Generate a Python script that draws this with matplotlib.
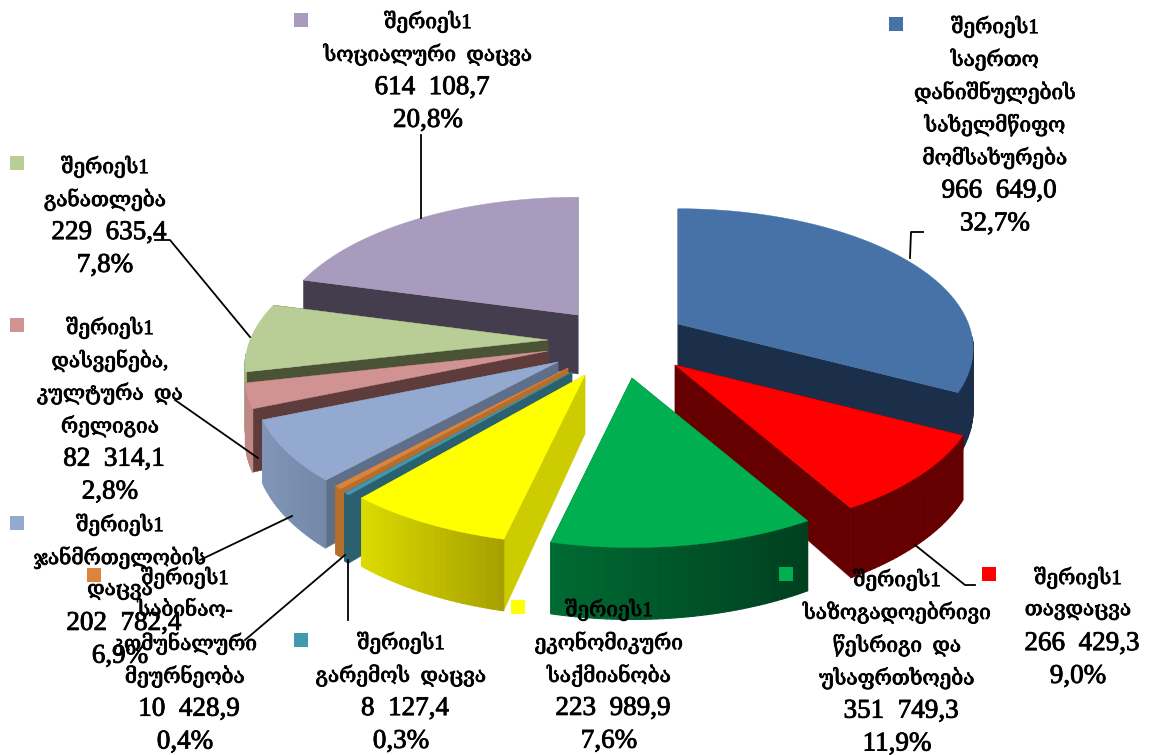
import numpy as np
import matplotlib
matplotlib.use("Agg")
from matplotlib import pyplot as plt
from matplotlib import patheffects as pe_
from matplotlib.collections import PolyCollection
from matplotlib.colors import to_rgb

plt.rcParams['font.family'] = ['Liberation Serif', 'DejaVu Serif', 'DejaVu Sans']

series_name = "შერიეს1"
categories = [
    ["საერთო", "დანიშნულების", "სახელმწიფო", "მომსახურება"],
    ["თავდაცვა"],
    ["საზოგადოებრივი", "წესრიგი  და", "უსაფრთხოება"],
    ["ეკონომიკური", "საქმიანობა"],
    ["გარემოს  დაცვა"],
    ["საბინაო-", "კომუნალური", "მეურნეობა"],
    ["ჯანმრთელობის", "დაცვა"],
    ["დასვენება,", "კულტურა  და", "რელიგია"],
    ["განათლება"],
    ["სოციალური  დაცვა"],
]
values = [966649.0, 266429.3, 351749.3, 223989.9, 8127.4, 10428.9, 202782.4, 82314.1, 229635.4, 614108.7]
percents = ["32,7%", "9,0%", "11,9%", "7,6%", "0,3%", "0,4%", "6,9%", "2,8%", "7,8%", "20,8%"]

# colours: top face, cut face, outer wall left and right end
top_colors = ['#4672a8', '#ff0000', '#00b050', '#ffff00', '#4198af', '#db843d', '#93a9cf', '#d19392', '#b9cd96', '#a99bbd']
cut_colors = ['#1b2e4a', '#660000', '#00602d', '#cccc00', '#2a6070', '#b56e2c', '#5f6f8a', '#5e3c3c', '#4b5337', '#433d4d']
wall_a = ['#1b2e4a', '#660000', '#006b33', '#dcdc00', '#2a6070', '#b56e2c', '#8196b8', '#c08886', '#a0b282', '#433d4d']
wall_b = ['#1b2e4a', '#660000', '#00401f', '#a8a000', '#2a6070', '#b56e2c', '#7488a8', '#c08886', '#a0b282', '#433d4d']

# where each slice's point sits (exploded by hand), drawn back to front
tip_x = [678, 675, 632, 585, 572, 568, 558, 548, 548, 578]
tip_y = [324, 365, 378, 375, 372, 368, 362, 351, 340, 315]
radius = [0.975, 1, 1, 1, 1, 1, 1, 1, 1, 1]
draw_order = [9, 8, 7, 0, 6, 5, 4, 1, 3, 2]

# label layout
label_x = [995, 1078, 897, 609, 401, 185, 120, 110, 105, 428]
label_y = [27, 578, 580, 610, 643, 578, 525, 328, 167, 22]
marker_x = [896, 989, 786, 518, 301, 94, 17, 17, 17, 301]
marker_y = [24, 574, 574, 607, 640, 575, 523, 325, 163, 20]
leaders = [
    ([910, 911, 923], [258, 232, 232]),
    ([915, 965, 975], [545, 585, 585]),
    ([], []), ([], []),
    ([348, 348], [560, 620]),
    ([345, 245], [555, 640]),
    ([292, 200], [516, 560]),
    ([258, 175], [458, 400]),
    ([250, 170, 155], [337, 240, 240]),
    ([421, 421], [218, 135]),
]

RX, RY, K, DEPTH = 298.0, 139.0, 0.18, 59.0
line_step = 32.8
heavy = [pe_.withStroke(linewidth=0.6, foreground='black')]


def project(tx, ty, ang, r=1.0):
    u, v = r * np.sin(ang), r * np.cos(ang)
    p = 1.0 / (1.0 + K * v)
    return tx + RX * u * p, ty - RY * v * p, p


def fmt_value(v):
    whole, frac = f"{v:.1f}".split(".")
    return f"{whole[:-3]}  {whole[-3:]},{frac}"


fig = plt.figure(figsize=(11.5, 7.55), dpi=100)
ax = fig.add_axes([0, 0, 1, 1])
ax.set_xlim(0, 1150)
ax.set_ylim(755, 0)
ax.axis("off")

edges = np.cumsum([0] + values) / sum(values) * 2 * np.pi

for i in draw_order:
    a0, a1 = edges[i], edges[i + 1]
    tx, ty = tip_x[i], tip_y[i]
    ang = np.linspace(a0, a1, max(int((a1 - a0) * 60), 3))
    x, y, p = project(tx, ty, ang, radius[i])
    # both cut faces
    for xe, ye, pe in [(x[0], y[0], p[0]), (x[-1], y[-1], p[-1])]:
        ax.fill([tx, xe, xe, tx], [ty, ye, ye + DEPTH * pe, ty + DEPTH],
                color=cut_colors[i], lw=0.3, zorder=2)
    # outer wall, shaded along the arc
    ca, cb = np.array(to_rgb(wall_a[i])), np.array(to_rgb(wall_b[i]))
    quads, cols = [], []
    for k in range(len(ang) - 1):
        if np.cos((ang[k] + ang[k + 1]) / 2) > -0.1:
            continue
        quads.append([(x[k], y[k]), (x[k + 1], y[k + 1]),
                      (x[k + 1], y[k + 1] + DEPTH * p[k + 1]), (x[k], y[k] + DEPTH * p[k])])
        t = (x[k] - x.min()) / max(x.max() - x.min(), 1)
        cols.append(ca + (cb - ca) * t)
    if quads:
        ax.add_collection(PolyCollection(quads, facecolors=cols, edgecolors=cols, linewidths=0.8, zorder=2))
    ax.fill(np.r_[tx, x], np.r_[ty, y], color=top_colors[i], lw=0.3, zorder=2)

for i in range(len(values)):
    lx, ly = leaders[i]
    if lx:
        ax.plot(lx, ly, color='black', lw=1.3, zorder=3)
    ax.scatter([marker_x[i]], [marker_y[i]], marker='s', s=95, color=top_colors[i], linewidths=0, zorder=4)
    lines = [series_name] + categories[i]
    for n, txt in enumerate(lines):
        ax.text(label_x[i], label_y[i] + n * line_step, txt, ha='center', va='center',
                fontsize=15, color='black', zorder=5, path_effects=heavy)
    n = len(lines)
    ax.text(label_x[i] + 4, label_y[i] + n * line_step, fmt_value(values[i]), ha='center', va='center',
            fontsize=19.5, color='black', zorder=5, path_effects=heavy)
    ax.text(label_x[i], label_y[i] + (n + 1) * line_step, percents[i], ha='center', va='center',
            fontsize=19.5, color='black', zorder=5, path_effects=heavy)

fig.savefig("out.png", dpi=100, facecolor='white')
